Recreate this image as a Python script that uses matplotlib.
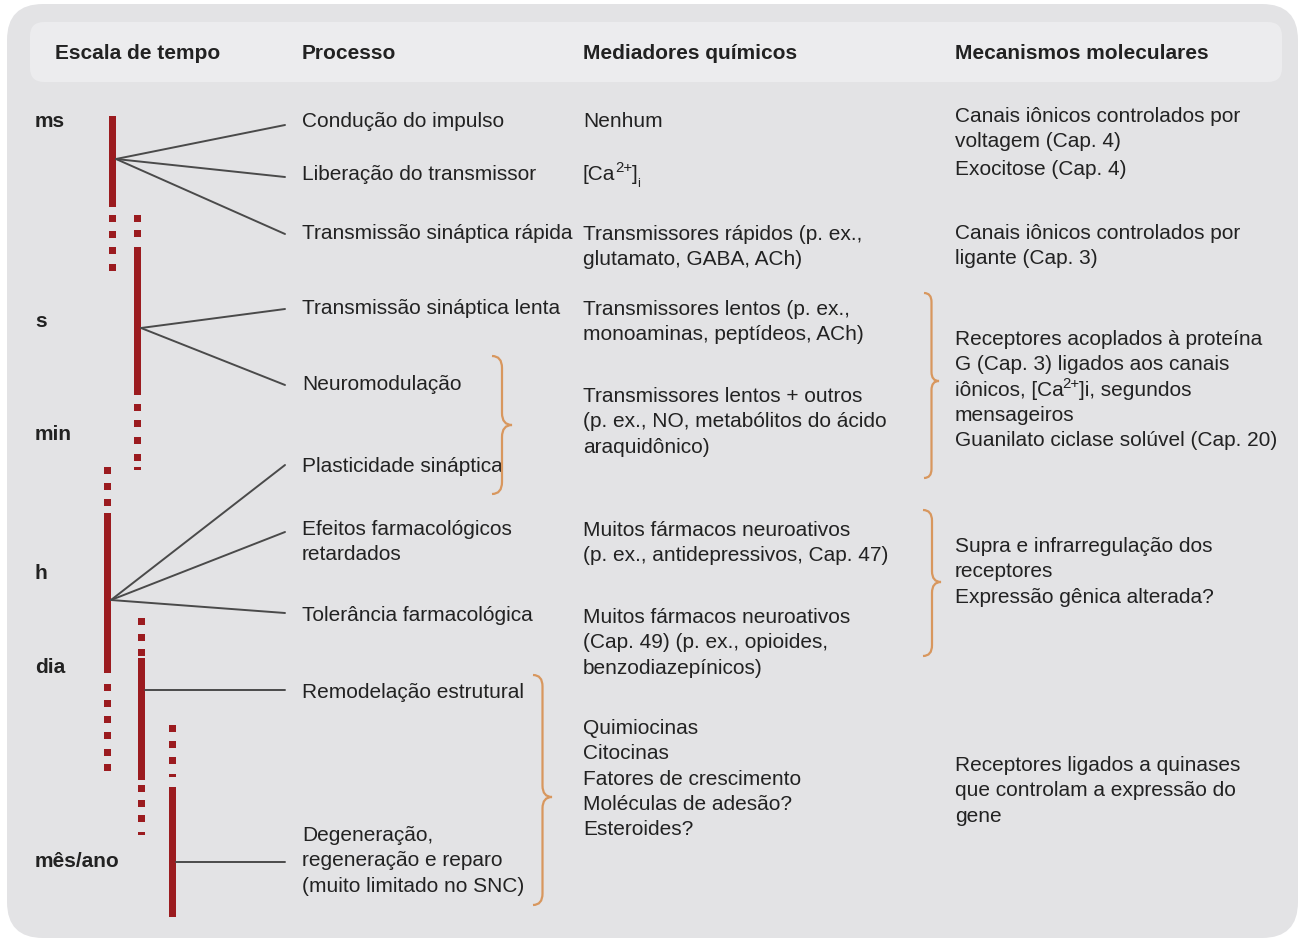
import matplotlib
matplotlib.use("Agg")
import matplotlib.pyplot as plt
from matplotlib.patches import FancyBboxPatch, PathPatch, Rectangle
from matplotlib.path import Path

plt.rcParams['font.family'] = ['Liberation Sans', 'DejaVu Sans']

# ---------------- data ----------------
headers = ["Escala de tempo", "Processo", "Mediadores químicos", "Mecanismos moleculares"]
header_x = [55, 302, 583, 955]

time_labels = ["ms", "s", "min", "h", "dia", "mês/ano"]
time_label_y = [120, 320, 433, 572, 666, 860]

process_lines = [
    ["Condução do impulso"],
    ["Liberação do transmissor"],
    ["Transmissão sináptica rápida"],
    ["Transmissão sináptica lenta"],
    ["Neuromodulação"],
    ["Plasticidade sináptica"],
    ["Efeitos farmacológicos", "retardados"],
    ["Tolerância farmacológica"],
    ["Remodelação estrutural"],
    ["Degeneração,", "regeneração e reparo", "(muito limitado no SNC)"],
]
process_y = [120, 173, 232, 307, 383, 465, 528, 614, 691, 834]

# a line given as a tuple is (text before, superscript, text after, subscript)
mediator_lines = [
    ["Nenhum"],
    [("[Ca", "2+", "]", "i")],
    ["Transmissores rápidos (p. ex.,", "glutamato, GABA, ACh)"],
    ["Transmissores lentos (p. ex.,", "monoaminas, peptídeos, ACh)"],
    ["Transmissores lentos + outros", "(p. ex., NO, metabólitos do ácido", "araquidônico)"],
    ["Muitos fármacos neuroativos", "(p. ex., antidepressivos, Cap. 47)"],
    ["Muitos fármacos neuroativos", "(Cap. 49) (p. ex., opioides,", "benzodiazepínicos)"],
    ["Quimiocinas", "Citocinas", "Fatores de crescimento", "Moléculas de adesão?", "Esteroides?"],
]
mediator_y = [120, 173, 233, 308, 395, 529, 616, 727]

mechanism_lines = [
    ["Canais iônicos controlados por", "voltagem (Cap. 4)"],
    ["Exocitose (Cap. 4)"],
    ["Canais iônicos controlados por", "ligante (Cap. 3)"],
    ["Receptores acoplados à proteína", "G (Cap. 3) ligados aos canais",
     ("iônicos, [Ca", "2+", "]i, segundos", None), "mensageiros", "Guanilato ciclase solúvel (Cap. 20)"],
    ["Supra e infrarregulação dos", "receptores", "Expressão gênica alterada?"],
    ["Receptores ligados a quinases", "que controlam a expressão do", "gene"],
]
mechanism_y = [115, 168, 232, 338, 545, 764]

# time-scale bars: column x, solid segment (y0, y1), dotted dots above / below
bar_x = [113, 138, 108, 142, 173]
bar_solid = [(116, 207), (247, 395), (513, 673), (658, 780), (787, 917)]
bar_dots_before = [[], [218, 233], [470, 486, 502], [621, 637, 652], [728, 744, 760]]
bar_dots_after = [[218, 234, 250, 267], [407, 423, 440, 457], [687, 703, 719, 735, 752, 767], [788, 803, 818], []]
bar_dash_end = [None, 468, None, 833, 775]

# connector fans: origin and targets
fan_origin = [(116, 159), (141, 328), (111, 600), (145, 690), (176, 862)]
fan_targets = [[(285, 125), (285, 177), (285, 234)],
               [(285, 309), (285, 385)],
               [(285, 465), (285, 532), (285, 613)],
               [(285, 690)],
               [(285, 862)]]

# braces: x0, width, y_top, y_tip, y_bottom
braces = [(492, 20, 356, 425, 494),
          (924, 15, 293, 381, 478),
          (923, 18, 510, 582, 656),
          (533, 19, 675, 797, 905)]

# ---------------- style ----------------
RED = "#9b1b1f"
LINE = "#4a4a4a"
TXT = "#222222"
BRACE = "#d8975e"
FS = 15.0
STEP = 25.3
DY = 1.5

fig = plt.figure(figsize=(12.99, 9.40), dpi=100)
fig.patch.set_facecolor("white")
ax = fig.add_axes([0, 0, 1, 1])
ax.set_xlim(0, 1299)
ax.set_ylim(940, 0)
ax.axis("off")

ax.add_patch(FancyBboxPatch((7, 4), 1291, 934, boxstyle="round,pad=0,rounding_size=36",
                            fc="#e3e3e5", ec="none", zorder=0))
ax.add_patch(FancyBboxPatch((30, 22), 1252, 60, boxstyle="round,pad=0,rounding_size=14",
                            fc="#ececee", ec="none", zorder=0.5))

for h, x in zip(headers, header_x):
    ax.text(x, 52 + DY, h, fontsize=FS, fontweight="bold", color=TXT, va="center", ha="left")

for t, y in zip(time_labels, time_label_y):
    ax.text(35, y + DY, t, fontsize=FS, fontweight="bold", color=TXT, va="center", ha="left")


def rich(x, y, parts):
    before, sup, after, sub = parts
    t1 = ax.text(x, y, before, fontsize=FS, color=TXT, va="center", ha="left")
    t2 = ax.annotate(sup, xy=(0.985, 0.45), xycoords=t1, fontsize=FS * 0.72, color=TXT,
                     va="bottom", ha="left")
    t3 = ax.annotate(after, xy=(0.98, 0.5), xycoords=(t2, t1), fontsize=FS, color=TXT,
                     va="center", ha="left")
    if sub:
        ax.annotate(sub, xy=(0.92, 0.32), xycoords=t3, fontsize=FS * 0.6, color=TXT,
                    va="top", ha="left")


def block(lines_list, ys, x):
    for lines, y0 in zip(lines_list, ys):
        for i, line in enumerate(lines):
            yy = y0 + i * STEP + DY
            if isinstance(line, tuple):
                rich(x, yy, line)
            else:
                ax.text(x, yy, line, fontsize=FS, color=TXT, va="center", ha="left")


block(process_lines, process_y, 302)
block(mediator_lines, mediator_y, 583)
block(mechanism_lines, mechanism_y, 955)

# bars
W = 7
for x, (s0, s1), before, after, dash in zip(bar_x, bar_solid, bar_dots_before, bar_dots_after, bar_dash_end):
    ax.add_patch(Rectangle((x - W / 2, s0), W, s1 - s0, fc=RED, ec="none", zorder=2))
    for d in before + after:
        ax.add_patch(Rectangle((x - W / 2, d - 3.5), W, 7, fc=RED, ec="none", zorder=2))
    if dash is not None:
        ax.add_patch(Rectangle((x - W / 2, dash - 1.5), W, 3, fc=RED, ec="none", zorder=2))

# fans
for (ox, oy), targets in zip(fan_origin, fan_targets):
    for tx, ty in targets:
        ax.plot([ox, tx], [oy, ty], color=LINE, lw=1.4, solid_capstyle="round", zorder=3)


# braces
def brace(x0, w, yt, ym, yb):
    xm = x0 + w / 2
    r = min(w * 0.6, 12)
    verts = [(x0, yt), (xm, yt), (xm, yt + r),
             (xm, ym - r), (xm, ym), (x0 + w, ym),
             (xm, ym), (xm, ym + r),
             (xm, yb - r), (xm, yb), (x0, yb)]
    codes = [Path.MOVETO, Path.CURVE3, Path.CURVE3,
             Path.LINETO, Path.CURVE3, Path.CURVE3,
             Path.CURVE3, Path.CURVE3,
             Path.LINETO, Path.CURVE3, Path.CURVE3]
    ax.add_patch(PathPatch(Path(verts, codes), fc="none", ec=BRACE, lw=1.6, zorder=3))


for b in braces:
    brace(*b)

fig.savefig("out.png", dpi=100)
